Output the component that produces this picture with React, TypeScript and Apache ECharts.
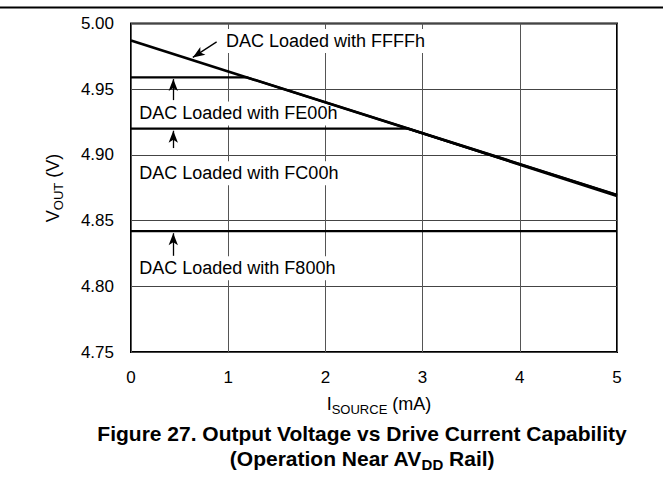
import React, { useEffect, useRef } from "react";
import * as echarts from "echarts";

const FONT = "'Liberation Sans', Arial, Helvetica, sans-serif";

const xTicks = [0, 1, 2, 3, 4, 5];
const yMin = 4.75;
const yMax = 5.0;
const yStep = 0.05;

// series (x in mA, y in V)
const ffffX = [0, 5];
const ffffY = [4.987, 4.8695];
const fe00X = [0, 1.19, 5];
const fe00Y = [4.959, 4.959, 4.8695];
const fc00X = [0, 2.85, 5];
const fc00Y = [4.92, 4.92, 4.8685];
const f800X = [0, 5];
const f800Y = [4.842, 4.842];

const seriesNames = ["FFFFh", "FE00h", "FC00h", "F800h"];

// annotation labels: [x, y] in data space (left edge, vertical centre)
const labelTexts = [
  "DAC Loaded with FFFFh",
  "DAC Loaded with FE00h",
  "DAC Loaded with FC00h",
  "DAC Loaded with F800h",
];
const labelX = [0.966, 0.075, 0.075, 0.075];
const labelY = [4.9866, 4.9316, 4.886, 4.8138];

// arrows: start -> tip in data space
const arrowFromX = [0.881, 0.435, 0.435, 0.435];
const arrowFromY = [4.986, 4.9417, 4.9052, 4.8232];
const arrowToX = [0.636, 0.435, 0.435, 0.435];
const arrowToY = [4.9742, 4.9577, 4.9184, 4.8404];

const zip = (xs: number[], ys: number[]) => xs.map((x, i) => [x, ys[i]]);

export default function App() {
  const ref = useRef<HTMLDivElement>(null);
  useEffect(() => {
    if (!ref.current) return;
    const chart = echarts.init(ref.current, undefined, { renderer: "svg" });
    const lineData = [zip(ffffX, ffffY), zip(fe00X, fe00Y), zip(fc00X, fc00Y), zip(f800X, f800Y)];
    const widths = [2.7, 2.2, 2.2, 2.2];
    const series: any[] = lineData.map((d, i) => ({
      type: "line",
      name: seriesNames[i],
      data: d,
      showSymbol: false,
      symbol: "none",
      lineStyle: { color: "#000", width: widths[i] },
      z: 5,
      silent: true,
      markLine: {
        silent: true,
        z: 5,
        symbol: ["none", "arrow"],
        symbolSize: [7, 12],
        label: { show: false },
        lineStyle: { color: "#000", width: 1.3, type: "solid" },
        data: [
          [
            { coord: [arrowFromX[i], arrowFromY[i]], symbol: "none" },
            { coord: [arrowToX[i], arrowToY[i]], symbol: "arrow" },
          ],
        ],
      },
    }));

    const subRich = (size: number, sub: number, weight: string) => ({
      n: { fontSize: size, lineHeight: size + 3, verticalAlign: "top", fontFamily: FONT, fontWeight: weight, fill: "#000", color: "#000" },
      s: { fontSize: sub, lineHeight: 8, verticalAlign: "bottom", fontFamily: FONT, fontWeight: weight, fill: "#000", color: "#000" },
    });

    chart.setOption({
      animation: false,
      backgroundColor: "#fff",
      grid: {
        left: 131,
        right: 46,
        top: 23.5,
        bottom: 131,
        show: true,
        borderColor: "#000",
        borderWidth: 2,
        backgroundColor: "transparent",
        containLabel: false,
        z: 0,
      },
      xAxis: {
        type: "value",
        z: 0,
        min: xTicks[0],
        max: xTicks[xTicks.length - 1],
        interval: 1,
        axisLine: { show: false },
        axisTick: { show: false },
        splitLine: { show: true, lineStyle: { color: "#555", width: 1 } },
        axisLabel: { fontSize: 17, color: "#000", fontFamily: FONT, margin: 17 },
      },
      yAxis: {
        type: "value",
        z: 0,
        min: yMin,
        max: yMax,
        interval: yStep,
        axisLine: { show: false },
        axisTick: { show: false },
        splitLine: { show: true, lineStyle: { color: "#444", width: 1 } },
        axisLabel: {
          fontSize: 17,
          color: "#000",
          fontFamily: FONT,
          margin: 17,
          formatter: (v: number) => v.toFixed(2),
        },
      },
      series,
    });

    const labels = labelTexts.map((t, i) => {
      const p = chart.convertToPixel({ gridIndex: 0 }, [labelX[i], labelY[i]]) as number[];
      return {
        type: "text",
        z: 2,
        x: p[0],
        y: p[1],
        style: {
          text: t,
          font: `18px ${FONT}`,
          fill: "#000",
          align: "left",
          verticalAlign: "middle",
          backgroundColor: "#fff",
          padding: [3, 1, 3, 1],
        },
      };
    });

    chart.setOption({
      graphic: [
        {
          type: "line",
          shape: { x1: 0, y1: 7.5, x2: 663, y2: 7.5 },
          style: { stroke: "#000", lineWidth: 2 },
        },
        ...labels,
        {
          type: "text",
          x: 379,
          y: 405,
          style: {
            text: "{n|I}{s|SOURCE}{n| (mA)}",
            rich: subRich(18, 13, "normal"),
            align: "center",
            verticalAlign: "middle",
          },
        },
        {
          type: "text",
          x: 54,
          y: 188,
          rotation: Math.PI / 2,
          style: {
            text: "{n|V}{s|OUT}{n| (V)}",
            rich: subRich(18, 13, "normal"),
            align: "center",
            verticalAlign: "middle",
          },
        },
        {
          type: "text",
          x: 362,
          y: 433,
          style: {
            text: "Figure 27. Output Voltage vs Drive Current Capability",
            font: `bold 21px ${FONT}`,
            fill: "#000",
            align: "center",
            verticalAlign: "middle",
          },
        },
        {
          type: "text",
          x: 362,
          y: 460,
          style: {
            text: "{n|(Operation Near AV}{s|DD}{n| Rail)}",
            rich: subRich(21, 15, "bold"),
            align: "center",
            verticalAlign: "middle",
          },
        },
      ],
    });

    return () => chart.dispose();
  }, []);
  return (
    <div
      ref={ref}
      style={{ position: "absolute", left: 0, top: 0, width: 663, height: 483 }}
    />
  );
}
